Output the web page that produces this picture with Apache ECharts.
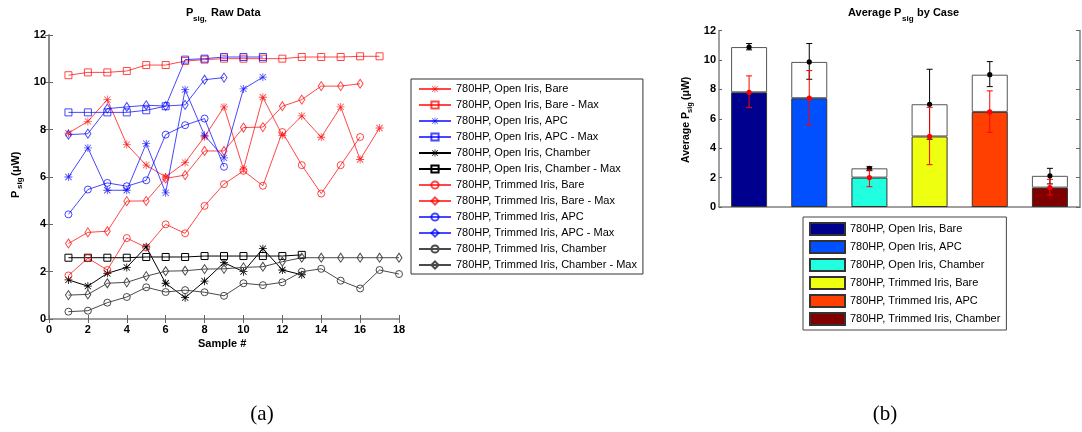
<!DOCTYPE html>
<html>
<head>
<meta charset="utf-8">
<script src="https://cdn.jsdelivr.net/npm/echarts@6/dist/echarts.min.js"></script>
<style>
html, body { margin: 0; padding: 0; background: #fff; }
#main { width: 1082px; height: 432px; }
</style>
</head>
<body>
<div id="main"></div>
<script>
// (a) raw samples, sample # starts at 1
const openBare       = [7.85, 8.35, 9.27, 7.37, 6.5, 6.0, 6.61, 7.7, 8.96, 6.33, 9.37, 7.76, 8.58, 7.68, 8.96, 6.74, 8.07];
const openBareMax    = [10.3, 10.42, 10.42, 10.48, 10.73, 10.73, 10.9, 10.96, 11.0, 11.0, 11.0, 11.0, 11.07, 11.07, 11.07, 11.1, 11.1];
const openApc        = [6.0, 7.23, 5.44, 5.44, 7.41, 5.33, 9.69, 7.76, 6.81, 9.72, 10.22];
const openApcMax     = [8.73, 8.73, 8.73, 8.73, 8.82, 8.99, 10.96, 11.0, 11.07, 11.07, 11.07];
const openChamber    = [1.65, 1.39, 1.93, 2.18, 3.05, 1.51, 0.9, 1.6, 2.38, 2.0, 2.97, 2.07, 1.87];
const openChamberMax = [2.59, 2.59, 2.59, 2.59, 2.62, 2.62, 2.62, 2.66, 2.66, 2.66, 2.66, 2.66, 2.71];
const trimBare       = [1.84, 2.57, 2.07, 3.42, 3.02, 4.0, 3.62, 4.78, 5.7, 6.26, 5.63, 7.9, 6.5, 5.3, 6.5, 7.69];
const trimBareMax    = [3.19, 3.66, 3.71, 4.98, 4.99, 5.94, 6.08, 7.1, 7.1, 8.09, 8.11, 8.99, 9.27, 9.84, 9.84, 9.94];
const trimApc        = [4.42, 5.47, 5.75, 5.61, 5.86, 7.79, 8.19, 8.47, 6.43];
const trimApcMax     = [7.79, 7.83, 8.89, 8.96, 9.03, 9.0, 9.05, 10.11, 10.2];
const trimChamber    = [0.31, 0.35, 0.69, 0.93, 1.34, 1.14, 1.22, 1.13, 0.98, 1.51, 1.43, 1.55, 2.0, 2.12, 1.62, 1.29, 2.07, 1.9];
const trimChamberMax = [1.01, 1.04, 1.51, 1.55, 1.81, 2.02, 2.04, 2.11, 2.12, 2.18, 2.21, 2.42, 2.59, 2.59, 2.59, 2.59, 2.59, 2.59];

const rawNames = [
  '780HP, Open Iris, Bare', '780HP, Open Iris, Bare - Max',
  '780HP, Open Iris, APC', '780HP, Open Iris, APC - Max',
  '780HP, Open Iris, Chamber', '780HP, Open Iris, Chamber - Max',
  '780HP, Trimmed Iris, Bare', '780HP, Trimmed Iris, Bare - Max',
  '780HP, Trimmed Iris, APC', '780HP, Trimmed Iris, APC - Max',
  '780HP, Trimmed Iris, Chamber', '780HP, Trimmed Iris, Chamber - Max'
];
const rawValues = [openBare, openBareMax, openApc, openApcMax, openChamber, openChamberMax,
  trimBare, trimBareMax, trimApc, trimApcMax, trimChamber, trimChamberMax];

// (b) averages by case
const caseNames = [
  '780HP, Open Iris, Bare', '780HP, Open Iris, APC', '780HP, Open Iris, Chamber',
  '780HP, Trimmed Iris, Bare', '780HP, Trimmed Iris, APC', '780HP, Trimmed Iris, Chamber'
];
const meanVals = [7.8, 7.4, 2.0, 4.8, 6.47, 1.32];
const meanLow  = [6.76, 5.58, 1.38, 2.88, 5.08, 0.82];
const meanHigh = [8.92, 9.28, 2.52, 6.78, 7.9, 1.88];
const maxVals  = [10.88, 9.87, 2.63, 6.99, 9.0, 2.12];
const maxLow   = [10.69, 8.69, 2.47, 4.61, 8.19, 1.57];
const maxHigh  = [11.12, 11.12, 2.74, 9.37, 9.89, 2.63];

const xTicks = [0, 18, 2];   // min, max, step
const yTicks = [0, 12, 2];

// styles
const RED = 'rgba(255,0,0,0.72)', BLUE = 'rgba(0,0,255,0.72)', BLK = '#000', GRY = '#4a4a4a';
const STAR = 'path://M9,0L11,0L11,20L9,20ZM0,9L20,9L20,11L0,11ZM1.5,2.9L2.9,1.5L18.5,17.1L17.1,18.5ZM17.1,1.5L18.5,2.9L2.9,18.5L1.5,17.1Z';
const lineColors = [RED, RED, BLUE, BLUE, BLK, BLK, RED, RED, BLUE, BLUE, GRY, GRY];
const markers = ['star', 'rect', 'star', 'rect', 'star', 'rect', 'circle', 'diamond', 'circle', 'diamond', 'circle', 'diamond'];
const caseColors = ['#00008f', '#0050ff', '#20ffdf', '#efff10', '#ff4000', '#800000'];
const FONT = '"Liberation Sans", Arial, sans-serif';

const rawSeries = rawValues.map((vals, k) => {
  const m = markers[k];
  const c = lineColors[k];
  const s = {
    type: 'line', name: rawNames[k], xAxisIndex: 0, yAxisIndex: 0,
    data: vals.map((v, i) => [i + 1, v]),
    lineStyle: { color: c, width: 1 },
    emphasis: { disabled: true },
    z: 3
  };
  if (m === 'star') {
    s.symbol = STAR; s.symbolSize = 8;
    s.itemStyle = { color: c, borderWidth: 0 };
  } else {
    s.symbol = m;
    s.symbolSize = m === 'diamond' ? [6, 9] : 7;
    s.itemStyle = { color: 'rgba(255,255,255,0)', borderColor: c, borderWidth: 1 };
  }
  return s;
});

const barSeries = caseNames.map((n, k) => ({
  type: 'bar', name: n + '\u200b', xAxisIndex: 2, yAxisIndex: 2, stack: 'avg', barWidth: 36,
  data: meanVals.map((v, j) => (j === k ? v : '-')),
  itemStyle: { color: caseColors[k], borderColor: '#333', borderWidth: 1 },
  emphasis: { disabled: true }
}));
barSeries.push({
  type: 'bar', name: 'max', xAxisIndex: 2, yAxisIndex: 2, stack: 'avg', barWidth: 36,
  data: maxVals.map((v, j) => +(v - meanVals[j]).toFixed(3)),
  itemStyle: { color: '#fff', borderColor: '#555', borderWidth: 1 },
  emphasis: { disabled: true }
});

function errBars(color, cap) {
  return function (params, api) {
    const x = api.value(0);
    const p = api.coord([x, api.value(1)]);
    const lo = api.coord([x, api.value(2)]);
    const hi = api.coord([x, api.value(3)]);
    const st = { stroke: color, lineWidth: 1 };
    return {
      type: 'group', children: [
        { type: 'line', shape: { x1: p[0], y1: lo[1], x2: p[0], y2: hi[1] }, style: st },
        { type: 'line', shape: { x1: p[0] - cap, y1: lo[1], x2: p[0] + cap, y2: lo[1] }, style: st },
        { type: 'line', shape: { x1: p[0] - cap, y1: hi[1], x2: p[0] + cap, y2: hi[1] }, style: st },
        { type: 'circle', shape: { cx: p[0], cy: p[1], r: 2.6 }, style: { fill: color } }
      ]
    };
  };
}
const errSeries = [
  { type: 'custom', name: 'err max', xAxisIndex: 2, yAxisIndex: 2, z: 5,
    renderItem: errBars('#000', 3), encode: { x: 0, y: 1 },
    data: maxVals.map((v, i) => [i, v, maxLow[i], maxHigh[i]]) },
  { type: 'custom', name: 'err mean', xAxisIndex: 2, yAxisIndex: 2, z: 6,
    renderItem: errBars('#ff0000', 3), encode: { x: 0, y: 1 },
    data: meanVals.map((v, i) => [i, v, meanLow[i], meanHigh[i]]) }
];

function T(x, y, s, size, extra) {
  return Object.assign({
    type: 'text', x: x, y: y,
    style: {
      text: s, font: 'bold ' + size + 'px ' + FONT, fill: '#000',
      align: 'left', verticalAlign: 'middle', textAlign: 'left', textVerticalAlign: 'middle'
    }
  }, extra || {});
}

const axisGray = { show: true, lineStyle: { color: '#808080', width: 1.5 } };
const tickLbl = { color: '#000', fontWeight: 'bold', fontSize: 11, fontFamily: FONT };
const legendText = { fontSize: 11, fontFamily: FONT, color: '#000', lineHeight: 12 };

const chart = echarts.init(document.getElementById('main'), null, { renderer: 'canvas' });
chart.setOption({
  animation: false,
  backgroundColor: '#fff',
  grid: [
    { left: 49, top: 35, width: 350, height: 284 },
    { left: 719, top: 30.6, width: 361, height: 176.4 }
  ],
  xAxis: [
    { type: 'value', gridIndex: 0, min: xTicks[0], max: xTicks[1], interval: xTicks[2],
      axisLine: axisGray, axisTick: { inside: true, length: 4, lineStyle: { color: '#666' } },
      axisLabel: Object.assign({ margin: 5 }, tickLbl), splitLine: { show: false } },
    { type: 'value', gridIndex: 0, position: 'top', min: xTicks[0], max: xTicks[1], interval: xTicks[2],
      axisLine: { show: false }, axisTick: { inside: true, length: 4, lineStyle: { color: '#666' } },
      axisLabel: { show: false }, splitLine: { show: false } },
    { type: 'category', gridIndex: 1, data: caseNames, boundaryGap: true,
      axisLine: axisGray, axisTick: { show: false }, axisLabel: { show: false } }
  ],
  yAxis: [
    { type: 'value', gridIndex: 0, min: yTicks[0], max: yTicks[1], interval: yTicks[2],
      axisLine: axisGray, axisTick: { show: true, inside: true, length: 4, lineStyle: { color: '#666' } },
      axisLabel: Object.assign({ margin: 3 }, tickLbl), splitLine: { show: false } },
    { type: 'value', gridIndex: 0, position: 'right', min: yTicks[0], max: yTicks[1], interval: yTicks[2],
      axisLine: axisGray, axisTick: { show: true, inside: true, length: 4, lineStyle: { color: '#666' } },
      axisLabel: { show: false }, splitLine: { show: false } },
    { type: 'value', gridIndex: 1, min: yTicks[0], max: yTicks[1], interval: yTicks[2],
      axisLine: axisGray, axisTick: { show: true, inside: true, length: 3, lineStyle: { color: '#666' } },
      axisLabel: Object.assign({ margin: 3 }, tickLbl), splitLine: { show: false } },
    { type: 'value', gridIndex: 1, position: 'right', min: yTicks[0], max: yTicks[1], interval: yTicks[2],
      axisLine: axisGray, axisTick: { show: true, inside: true, length: 4, lineStyle: { color: '#666' } },
      axisLabel: { show: false }, splitLine: { show: false } }
  ],
  legend: [
    { data: rawNames, orient: 'vertical', left: 411, top: 79, selectedMode: false,
      itemWidth: 32, itemHeight: 9, itemGap: 4, padding: [4, 6, 3, 7],
      borderColor: '#333', borderWidth: 1, backgroundColor: '#fff', textStyle: legendText },
    { data: caseNames.map(n => n + '\u200b'), orient: 'vertical', left: 803, top: 217, selectedMode: false,
      icon: 'rect', itemWidth: 35, itemHeight: 12, itemGap: 4, padding: [5, 6, 4, 6],
      borderColor: '#444', borderWidth: 1, backgroundColor: '#fff', textStyle: legendText }
  ],
  graphic: [
    T(186, 13, 'P', 11), T(193, 18.5, 'sig,', 8), T(211, 13, 'Raw Data', 11),
    T(848, 13, 'Average P', 11), T(902, 18.5, 'sig', 8), T(917, 13, 'by Case', 11),
    T(198, 344, 'Sample #', 11),
    { type: 'group', x: 16, y: 198, rotation: Math.PI / 2, children: [
      T(0, 0, 'P', 11), T(9, 4, 'sig', 8), T(22, 0, '(\u03bcW)', 11)
    ] },
    { type: 'group', x: 686, y: 163, rotation: Math.PI / 2, children: [
      T(0, 0, 'Average P', 10.5), T(50, 4, 'sig', 7.5), T(63, 0, '(\u03bcW)', 10.5)
    ] },
    { type: 'text', x: 262, y: 414, style: { text: '(a)', font: '21px "Liberation Serif", serif', fill: '#000',
      align: 'center', verticalAlign: 'middle', textAlign: 'center', textVerticalAlign: 'middle' } },
    { type: 'text', x: 885, y: 414, style: { text: '(b)', font: '21px "Liberation Serif", serif', fill: '#000',
      align: 'center', verticalAlign: 'middle', textAlign: 'center', textVerticalAlign: 'middle' } }
  ],
  series: rawSeries.concat(barSeries, errSeries)
});
</script>
</body>
</html>
